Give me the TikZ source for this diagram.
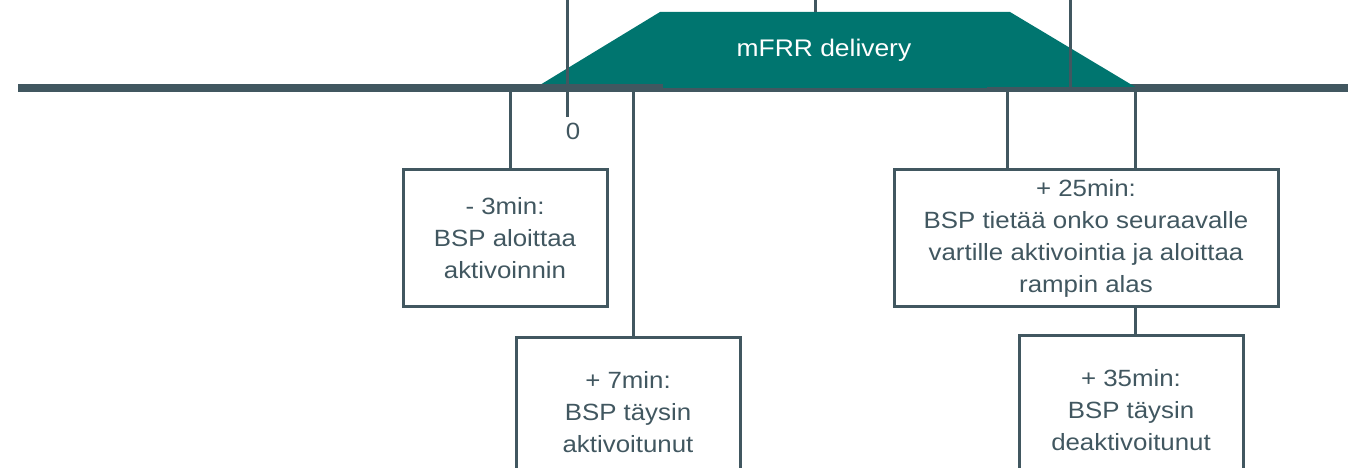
\documentclass[tikz,border=0pt]{standalone}
\usepackage{fontspec}
\setmainfont{Liberation Sans}[FakeStretch=1.1]
\usepackage{tikz}
\definecolor{slate}{RGB}{65,87,96}
\definecolor{tealfill}{RGB}{0,117,111}

\begin{document}
\begin{tikzpicture}[x=1pt,y=-1pt,
box/.style={%
draw=slate,
line width=3pt,
text=slate,
align=center,
inner sep=0pt,
font=\fontsize{23.5}{32}\selectfont
},
tick/.style={draw=slate, line width=3pt}
]
\useasboundingbox(0,0)rectangle(1358,468);
\clip(0,0)rectangle(1358,468);
%% Time axis
\coordinate(a0)at(18,88);
\coordinate(a1)at(1348,88);
\draw[slate,line width=8pt](a0)--(a1);
%% Delivery ramp
\fill[tealfill](535,88)--(660,12)--(1010,12)--(1137,88)--cycle;
\draw[slate,line width=6pt](535,87)--(663,87);
\draw[slate,line width=4pt](987,89)--(1137,89);
\node[text=white,font=\fontsize{24}{28}\selectfont]at(824,50)(mfrr){mFRR delivery};
%% Marks above the axis
\coordinate(z0)at(567,0);
\coordinate(z1)at(567,117);
\node[text=slate,font=\fontsize{23.5}{28}\selectfont]at(573,131)(zero){0};
\draw[tick](z0)--(z1);
\coordinate(q0)at(815,0);
\coordinate(q1)at(815,12);
\draw[tick](q0)--(q1);
\coordinate(e0)at(1070,0);
\coordinate(e1)at(1070,88);
\draw[tick](e0)--(e1);
%% Events
\node[box,minimum width=204pt,minimum height=136pt]at(505,238)(b1){- 3min:\\BSP aloittaa\\aktivoinnin};
\node[box,minimum width=224pt,minimum height=150pt,anchor=north]at(628,336)(b2){+ 7min:\\BSP täysin\\aktivoitunut};
\node[box,minimum width=384pt,minimum height=136pt]at(1086,238)(b3){+ 25min:\\BSP tietää onko seuraavalle\\vartille aktivointia ja aloittaa\\rampin alas};
\node[box,minimum width=224pt,minimum height=150pt,anchor=north]at(1131,334)(b4){+ 35min:\\BSP täysin\\deaktivoitunut};
%% Connectors from the axis
\coordinate(t1)at(510,92);
\coordinate(t2)at(633,92);
\coordinate(t3)at(1007,92);
\coordinate(t4)at(1135,92);
\draw[tick](t1)--(t1|-b1.north);
\draw[tick](t2)--(t2|-b2.north);
\draw[tick](t3)--(t3|-b3.north);
\draw[tick](t4)--(t4|-b3.north);
\draw[tick](b3.south-|t4)--(b4.north-|t4);
\end{tikzpicture}
\end{document}
